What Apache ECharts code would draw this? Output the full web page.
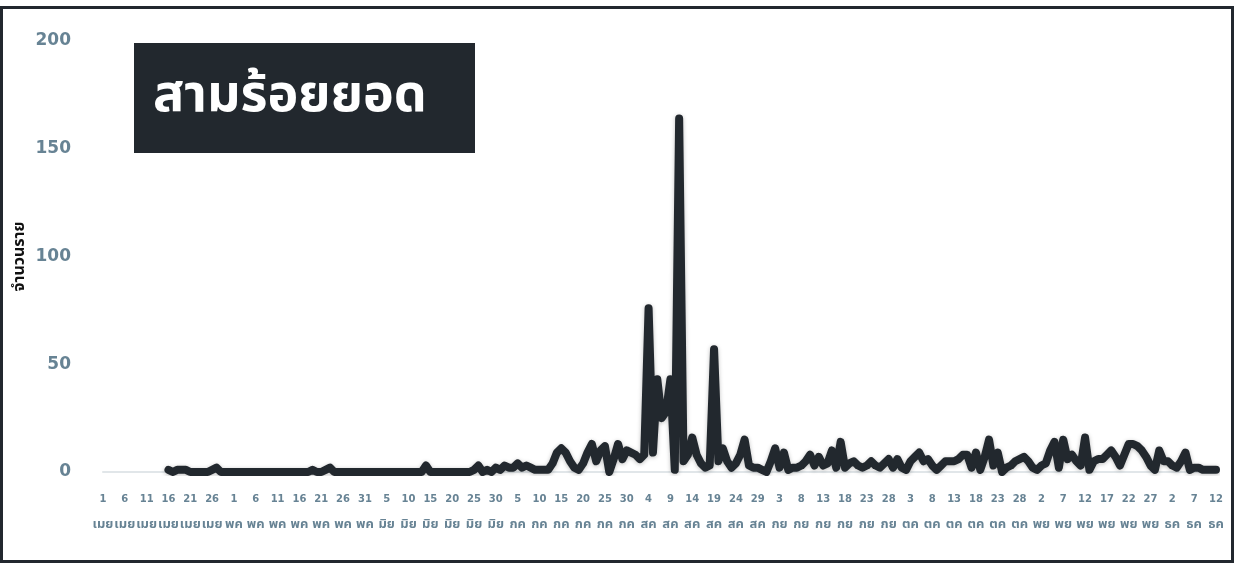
<!DOCTYPE html>
<html>
<head>
<meta charset="utf-8">
<script src="https://cdn.jsdelivr.net/npm/echarts@6/dist/echarts.min.js"></script>
<style>
html,body{margin:0;padding:0;background:#fff;}
#chart{width:1234px;height:563px;}
</style>
</head>
<body>
<div id="chart"></div>
<script>
// Thai month abbreviations and day counts (Apr–Dec)
const monthNames = ['เมย','พค','มิย','กค','สค','กย','ตค','พย','ธค'];
const monthDays = [30, 31, 30, 31, 31, 30, 31, 30, 12];

// categories: day + month
const categories = [];
monthNames.forEach(function (m, k) {
  for (let d = 1; d <= monthDays[k]; d++) categories.push(d + '|' + m);
});

// daily counts (April 1 .. December 12)
const aprValues = [null,null,null,null,null,null,null,null,null,null,null,null,null,null,null,
  1,0,1,1,1,0,0,0,0,0,1,2,0,0,0];
const mayValues = [0,0,0,0,0,0,0,0,0,0,0,0,0,0,0,0,0,0,1,0,0,1,2,0,0,0,0,0,0,0,0];
const junValues = [0,0,0,0,0,0,0,0,0,0,0,0,0,3,0,0,0,0,0,0,0,0,0,0,1,3,0,1,0,2];
const julValues = [1,3,2,2,4,2,3,2,1,1,1,1,4,9,11,9,5,2,1,4,9,13,5,10,12,0,6,13,6,10,9];
const augValues = [8,6,8,76,9,43,25,28,43,1,164,5,8,16,8,4,2,3,57,5,11,5,2,4,8,15,3,2,2,1,0];
const sepValues = [5,11,2,9,1,2,2,3,5,8,3,7,3,4,10,2,14,2,4,5,3,2,3,5,3,2,4,6,2,6];
const octValues = [2,1,5,7,9,5,6,3,1,3,5,5,5,6,8,8,2,9,1,7,15,3,9,0,2,3,5,6,7,5,2];
const novValues = [1,3,4,10,14,2,15,6,8,5,3,16,1,5,6,6,8,10,7,3,8,13,13,12,10,7,3,1,10,5];
const decValues = [5,3,2,5,9,1,2,2,1,1,1,1];

const values = [].concat(aprValues, mayValues, junValues, julValues, augValues,
  sepValues, octValues, novValues, decValues);

const yTicks = { min: 0, max: 200, interval: 50 };

const FONT = '"Noto Sans Thai", "Noto Sans", "DejaVu Sans", sans-serif';
const NUMFONT = '"DejaVu Sans", sans-serif';
const DARK = '#22282e';
const LABEL = '#678394';

const chart = echarts.init(document.getElementById('chart'), null, { renderer: 'canvas' });
chart.setOption({
  backgroundColor: '#ffffff',
  animation: false,
  grid: { left: 103, right: 18, top: 41, bottom: 91, containLabel: false, outerBoundsMode: 'none' },
  xAxis: {
    type: 'category',
    data: categories,
    boundaryGap: false,
    axisLine: { show: true, lineStyle: { color: '#e1e6e9', width: 2 } },
    axisTick: { show: false },
    splitLine: { show: false },
    axisLabel: {
      interval: 4,
      margin: 14,
      showMinLabel: true,
      hideOverlap: false,
      formatter: function (v) {
        const p = v.split('|');
        return '{d|' + p[0] + '}\n{m|' + p[1] + '}';
      },
      rich: {
        d: { color: LABEL, fontFamily: NUMFONT, fontWeight: 'bold', fontSize: 10, lineHeight: 26 },
        m: { color: LABEL, fontFamily: FONT, fontWeight: 'bold', fontSize: 13, lineHeight: 26 }
      }
    }
  },
  yAxis: {
    type: 'value',
    min: yTicks.min,
    max: yTicks.max,
    interval: yTicks.interval,
    name: 'จำนวนราย',
    nameLocation: 'middle',
    nameRotate: 90,
    nameGap: 74,
    nameMoveOverlap: false,
    nameTextStyle: { color: '#111', fontFamily: FONT, fontWeight: 'bold', fontSize: 16 },
    axisLine: { show: false },
    axisTick: { show: false },
    splitLine: { show: false },
    axisLabel: { color: LABEL, fontFamily: NUMFONT, fontWeight: 'bold', fontSize: 17, margin: 32 }
  },
  series: [{
    type: 'line',
    data: values,
    showSymbol: false,
    symbol: 'none',
    connectNulls: false,
    lineStyle: {
      color: DARK, width: 8, cap: 'round', join: 'round',
      shadowColor: 'rgba(0,0,0,0.25)', shadowBlur: 4, shadowOffsetY: 1
    }
  }],
  graphic: [
    {
      type: 'rect', silent: true,
      shape: { x: 1.5, y: 7.5, width: 1231, height: 554 },
      style: { fill: 'none', stroke: DARK, lineWidth: 3 }
    },
    {
      type: 'rect', silent: true,
      shape: { x: 134, y: 43, width: 341, height: 110 },
      style: { fill: DARK }
    },
    {
      type: 'text', silent: true,
      left: 153, top: 74,
      style: { text: 'สามร้อยยอด', fill: '#ffffff', font: 'bold 52px ' + FONT }
    }
  ]
});
</script>
</body>
</html>
